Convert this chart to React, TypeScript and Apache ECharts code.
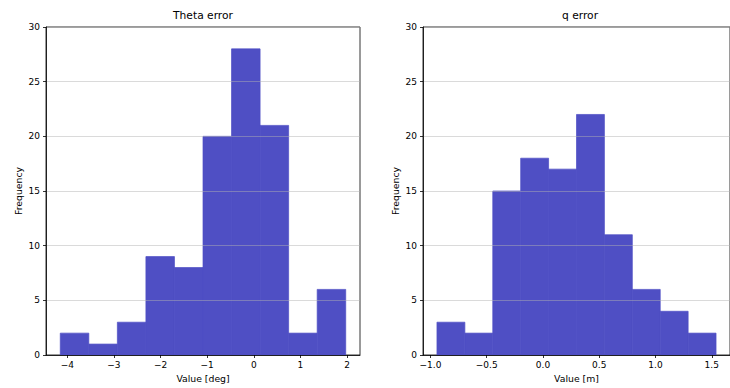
import React, { useEffect, useRef } from "react";
import * as echarts from "echarts";

// Histogram data
const thetaBinEdges = [-4.15, -3.538, -2.926, -2.314, -1.702, -1.09, -0.478, 0.134, 0.746, 1.358, 1.97];
const thetaCounts = [2, 1, 3, 9, 8, 20, 28, 21, 2, 6];
const qBinEdges = [-0.942, -0.694, -0.446, -0.198, 0.05, 0.298, 0.546, 0.794, 1.042, 1.29, 1.538];
const qCounts = [3, 2, 15, 18, 17, 22, 11, 6, 4, 2];

const thetaTicks = [-4, -3, -2, -1, 0, 1, 2];
const qTicks = [-1.0, -0.5, 0.0, 0.5, 1.0, 1.5];
const thetaRange = [-4.456, 2.276];
const qRange = [-1.066, 1.662];

const titles = ["Theta error", "q error"];
const xNames = ["Value [deg]", "Value [m]"];
const yName = "Frequency";

const FONT = "DejaVu Sans";
const BAR = "#4f4fc4";

function histData(edges: number[], counts: number[]) {
  return counts.map((c, i) => [edges[i], edges[i + 1], c]);
}

function fmt(v: number, dec: number) {
  const s = v.toFixed(dec);
  return s.replace("-", "\u2212");
}

export default function App() {
  const ref = useRef<HTMLDivElement>(null);
  useEffect(() => {
    if (!ref.current) return;
    const chart = echarts.init(ref.current, null, { renderer: "svg" });
    const grids = [
      { left: 46, top: 27, width: 314, height: 329 },
      { left: 423, top: 27, width: 314, height: 329 },
    ];
    const renderItem = (params: any, api: any) => {
      const p0 = api.coord([api.value(0), api.value(2)]);
      const p1 = api.coord([api.value(1), 0]);
      return {
        type: "rect",
        shape: { x: p0[0], y: p0[1], width: p1[0] - p0[0], height: p1[1] - p0[1] },
        style: { fill: BAR, stroke: "rgba(79,79,196,0.7)", lineWidth: 1 },
      };
    };
    const xAxis = (i: number, range: number[], ticks: number[], dec: number) => ({
      type: "value",
      gridIndex: i,
      min: range[0],
      max: range[1],
      z: 3,
      axisLine: { show: true, onZero: false, lineStyle: { color: "#000", width: 0.8 } },
      axisTick: { show: true, customValues: ticks, length: 3, lineStyle: { color: "#000", width: 0.8 } },
      axisLabel: {
        customValues: ticks,
        formatter: (v: number) => fmt(v, dec),
        fontSize: 9,
        margin: 5,
        color: "#000",
        fontFamily: FONT,
      },
      splitLine: { show: false },
      name: xNames[i],
      nameLocation: "middle",
      nameGap: 19,
      nameTextStyle: { fontSize: 9.3, fontFamily: FONT, color: "#000" },
    });
    const yAxis = (i: number) => ({
      type: "value",
      gridIndex: i,
      min: 0,
      max: 30,
      interval: 5,
      z: 3,
      axisLine: { show: true, onZero: false, lineStyle: { color: "#000", width: 0.8 } },
      axisTick: { show: true, length: 3, lineStyle: { color: "#000", width: 0.8 } },
      axisLabel: { fontSize: 9, margin: 6, color: "#000", fontFamily: FONT },
      splitLine: { show: true, lineStyle: { color: "rgba(176,176,176,0.6)", width: 0.8 } },
      name: yName,
      nameLocation: "middle",
      nameGap: 23,
      nameTextStyle: { fontSize: 9.3, fontFamily: FONT, color: "#000" },
    });
    chart.setOption({
      animation: false,
      backgroundColor: "#fff",
      title: titles.map((t, i) => ({
        text: t,
        left: grids[i].left + grids[i].width / 2,
        top: 10,
        padding: 0,
        textAlign: "center",
        textStyle: { fontSize: 10.7, fontWeight: "normal", fontFamily: FONT, color: "#000" },
      })),
      grid: grids.map((g) => ({ ...g, show: true, borderColor: "#000", borderWidth: 0.8, backgroundColor: "transparent" })),
      xAxis: [xAxis(0, thetaRange, thetaTicks, 0), xAxis(1, qRange, qTicks, 1)],
      yAxis: [yAxis(0), yAxis(1)],
      series: [
        {
          type: "custom",
          xAxisIndex: 0,
          yAxisIndex: 0,
          z: 1,
          renderItem,
          encode: { x: [0, 1], y: 2 },
          data: histData(thetaBinEdges, thetaCounts),
        },
        {
          type: "custom",
          xAxisIndex: 1,
          yAxisIndex: 1,
          z: 1,
          renderItem,
          encode: { x: [0, 1], y: 2 },
          data: histData(qBinEdges, qCounts),
        },
      ],
    });
    return () => chart.dispose();
  }, []);
  return <div ref={ref} style={{ position: "absolute", left: 0, top: 0, width: 730, height: 388 }} />;
}
